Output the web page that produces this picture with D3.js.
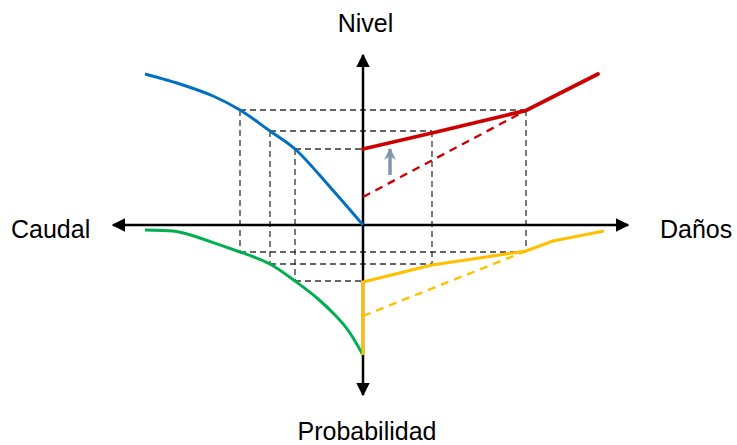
<!DOCTYPE html>
<html>
<head>
<meta charset="utf-8">
<script src="https://cdn.jsdelivr.net/npm/d3@7"></script>
<style>
  html, body { margin: 0; padding: 0; background: #fff; }
  svg { display: block; }
  text { font-family: "Liberation Sans", Arial, sans-serif; fill: #000; }
</style>
</head>
<body>
<svg id="chart" width="737" height="445"></svg>
<script>
// Axis labels
const axisLabels = ["Nivel", "Caudal", "Daños", "Probabilidad"];

// Blue: Caudal (negative x) vs Nivel (positive y)
const curvaCaudalNivel = [
  [-218, 151], [-180, 140], [-150, 129], [-123, 115], [-93, 94], [-68, 76], [-33, 38], [0, 0]
];
// Green: Caudal vs Probabilidad (negative y)
const curvaCaudalProb = [
  [-218, -5], [-190, -6], [-166, -12], [-123, -27], [-93, -39],
  [-68, -56], [-46, -73], [-26, -92], [-13, -108], [0, -130]
];
// Red solid: Daños vs Nivel (with protection)
const curvaDanosNivel = [[0, 76], [69, 92], [163, 114.5], [235, 151]];
// Red dashed: Daños vs Nivel (without protection)
const curvaDanosNivelSin = [[0, 28], [163, 114.5]];
// Yellow solid: Daños vs Probabilidad
const curvaDanosProb = [
  [0, -130], [0, -57], [69, -40], [163, -26], [190, -16], [241, -6]
];
// Yellow dashed
const curvaDanosProbSin = [[0, -91], [163, -26]];

// Guide levels: caudal, nivel, probabilidad, daños
const nivelesCaudal = [-123, -93, -68];
const nivelesNivel = [115, 94, 76];
const nivelesProb = [-27, -39, -56];
const nivelesDanos = [163, 69, 0];

// Upward arrow (shift of damage curve)
const flecha = [[27, 50], [27, 76]];

const svg = d3.select("#chart");
const x = d3.scaleLinear().domain([-250, 265]).range([113, 628]);
const y = d3.scaleLinear().domain([-170, 170]).range([395, 55]);
const line = d3.line().x(d => x(d[0])).y(d => y(d[1]));
const smoothBlue = d3.line().x(d => x(d[0])).y(d => y(d[1])).curve(d3.curveCatmullRom.alpha(0.5));
const smoothGreen = d3.line().x(d => x(d[0])).y(d => y(d[1])).curve(d3.curveNatural);

// Dashed guides
const guides = svg.append("g")
  .attr("fill", "none").attr("stroke", "#333").attr("stroke-width", 1.3)
  .attr("stroke-dasharray", "6,4");
nivelesCaudal.forEach((c, i) => {
  const n = nivelesNivel[i], p = nivelesProb[i], dn = nivelesDanos[i];
  guides.append("path").attr("d", line([[c, n], [dn, n]]));
  guides.append("path").attr("d", line([[c, p], [dn, p]]));
  guides.append("path").attr("d", line([[c, n], [c, p]]));
  if (dn > 0) guides.append("path").attr("d", line([[dn, n], [dn, p]]));
});

// Axes
const defs = svg.append("defs");
defs.append("marker").attr("id", "ah")
  .attr("viewBox", "0 0 10 10").attr("refX", 9).attr("refY", 5)
  .attr("markerWidth", 5.5).attr("markerHeight", 5.5)
  .attr("markerUnits", "strokeWidth").attr("orient", "auto")
  .append("path").attr("d", "M0,0 L10,5 L0,10 Z").attr("fill", "#000");
defs.append("marker").attr("id", "ahg")
  .attr("viewBox", "0 0 10 10").attr("refX", 9).attr("refY", 5)
  .attr("markerWidth", 3.4).attr("markerHeight", 3.4)
  .attr("markerUnits", "strokeWidth").attr("orient", "auto")
  .append("path").attr("d", "M0,0 L10,5 L0,10 L3,5 Z").attr("fill", "#8096AE");

const axes = svg.append("g").attr("stroke", "#000").attr("stroke-width", 2.5).attr("fill", "none");
axes.append("path").attr("d", line([[0, 0], [-250, 0]])).attr("marker-end", "url(#ah)");
axes.append("path").attr("d", line([[0, 0], [265, 0]])).attr("marker-end", "url(#ah)");
axes.append("path").attr("d", line([[0, 0], [0, 170]])).attr("marker-end", "url(#ah)");
axes.append("path").attr("d", line([[0, 0], [0, -170]])).attr("marker-end", "url(#ah)");

// Curves
svg.append("path").attr("d", line(curvaDanosNivelSin)).attr("fill", "none")
  .attr("stroke", "#CC0000").attr("stroke-width", 2.4).attr("stroke-dasharray", "8,6");
svg.append("path").attr("d", line(curvaDanosProbSin)).attr("fill", "none")
  .attr("stroke", "#FFC000").attr("stroke-width", 2.4).attr("stroke-dasharray", "8,6");
svg.append("path").attr("d", smoothBlue(curvaCaudalNivel)).attr("fill", "none")
  .attr("stroke", "#0070C0").attr("stroke-width", 3);
svg.append("path").attr("d", smoothGreen(curvaCaudalProb)).attr("fill", "none")
  .attr("stroke", "#00B050").attr("stroke-width", 3);
svg.append("path").attr("d", line(curvaDanosNivel)).attr("fill", "none")
  .attr("stroke", "#CC0000").attr("stroke-width", 3.8).attr("stroke-linecap", "round");
svg.append("path").attr("d", line(curvaDanosProb)).attr("fill", "none")
  .attr("stroke", "#FFC000").attr("stroke-width", 3);

// Gray arrow
svg.append("path").attr("d", line(flecha)).attr("fill", "none")
  .attr("stroke", "#8096AE").attr("stroke-width", 3.5).attr("marker-end", "url(#ahg)");

// Labels
svg.append("text").attr("x", 365.5).attr("y", 32).attr("text-anchor", "middle")
  .attr("font-size", 25).text(axisLabels[0]);
svg.append("text").attr("x", 11).attr("y", 238).attr("text-anchor", "start")
  .attr("font-size", 25).text(axisLabels[1]);
svg.append("text").attr("x", 660).attr("y", 238).attr("text-anchor", "start")
  .attr("font-size", 25).text(axisLabels[2]);
svg.append("text").attr("x", 367).attr("y", 440).attr("text-anchor", "middle")
  .attr("font-size", 25).text(axisLabels[3]);
</script>
</body>
</html>
